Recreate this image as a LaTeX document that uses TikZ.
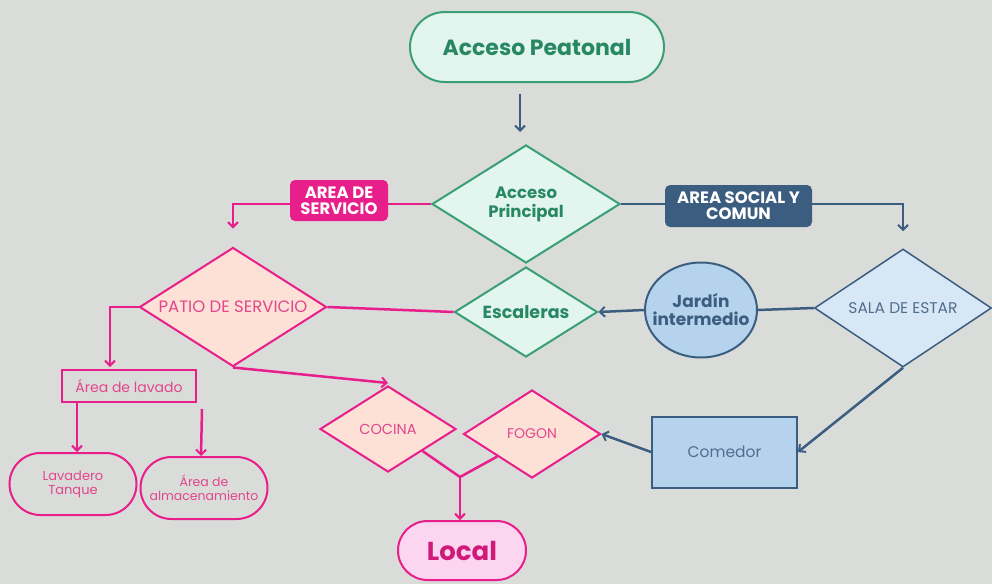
\documentclass[tikz,border=0pt]{standalone}
\usepackage{fontspec}
\setmainfont{Poppins}
\usetikzlibrary{shapes.geometric,shapes.misc,arrows.meta}
\definecolor{bg}{RGB}{218,220,217}
\definecolor{grn}{RGB}{58,158,118}
\definecolor{grntxt}{RGB}{40,136,100}
\definecolor{mint}{RGB}{226,246,239}
\definecolor{pnk}{RGB}{232,30,138}
\definecolor{pnktxt}{RGB}{226,70,140}
\definecolor{peach}{RGB}{253,224,214}
\definecolor{blu}{RGB}{59,94,128}
\definecolor{blutxt}{RGB}{80,110,140}
\definecolor{lblu}{RGB}{182,211,238}
\definecolor{sblu}{RGB}{216,231,246}
\definecolor{lpink}{RGB}{252,214,240}
\definecolor{loctxt}{RGB}{208,26,122}
\tikzset{
  barb/.tip={Straight Barb[length=5pt,width=10pt,line width=2pt]},
  pline/.style={draw=pnk,line width=2.5pt},
  bline/.style={draw=blu,line width=2.5pt},
  gdia/.style={diamond,draw=grn,fill=mint,line width=2pt,inner sep=0pt},
  pdia/.style={diamond,draw=pnk,fill=peach,line width=2pt,inner sep=0pt},
  intext/.style={inner sep=0pt,align=center},
  tagbox/.style={rectangle,rounded corners=5pt,inner sep=0pt,text=white,align=center},
  pill/.style={rounded rectangle,line width=2pt,inner sep=0pt,align=center},
}
\begin{document}
\begin{tikzpicture}[x=1pt,y=-1pt]
\useasboundingbox (0,0) rectangle (992,584);
\fill[bg] (0,0) rectangle (992,584);

% shapes
\node[pill,draw=grn,fill=mint,minimum width=254pt,minimum height=70pt,text=grntxt,font=\bfseries\fontsize{22}{24}\selectfont] (peat) at (537,47) {Acceso Peatonal};
\node[gdia,minimum width=188pt,minimum height=118pt] (prin) at (526,204) {};
\node[intext,text=grntxt,font=\bfseries\fontsize{16.5}{19}\selectfont] (prin-t) at (prin.center) {Acceso\\Principal};
\node[pdia,minimum width=187pt,minimum height=119pt] (patio) at (233,307) {};
\node[intext,text=pnktxt,font=\fontsize{16.5}{17}\selectfont] (patio-t) at (patio.center) {PATIO DE SERVICIO};
\node[gdia,minimum width=143pt,minimum height=90pt] (esc) at (526,312) {};
\node[intext,text=grntxt,font=\bfseries\fontsize{17.5}{18}\selectfont] (esc-t) at (esc.center) {Escaleras};
\node[ellipse,draw=blu,fill=lblu,line width=2pt,minimum width=112pt,minimum height=95pt,inner sep=0pt] (jar) at (701,310) {};
\node[intext,text=blu,font=\bfseries\fontsize{17}{18}\selectfont] (jar-t) at (jar.center) {Jardín\\intermedio};
\node[diamond,draw=blu,fill=sblu,line width=1.5pt,inner sep=0pt,minimum width=177pt,minimum height=118pt] (sala) at (903,308) {};
\node[intext,text=blutxt,font=\fontsize{15.5}{16}\selectfont] (sala-t) at (sala.center) {SALA DE ESTAR};
\node[rectangle,draw=pnk,line width=2pt,minimum width=134pt,minimum height=32pt,inner sep=0pt,text=pnktxt,font=\fontsize{14}{14}\selectfont] (lav) at (129,386) {Área de lavado};
\node[pill,draw=pnk,minimum width=127pt,minimum height=62pt,text=pnktxt,font=\fontsize{13}{14}\selectfont] (lavd) at (73,484) {Lavadero\\Tanque};
\node[pill,draw=pnk,minimum width=127pt,minimum height=62pt,text=pnktxt,font=\fontsize{12.5}{14}\selectfont] (alm) at (204,488) {Área de\\almacenamiento};
\node[pdia,minimum width=136pt,minimum height=86pt] (coc) at (388,429) {};
\node[intext,text=pnktxt,font=\fontsize{14.5}{15}\selectfont] (coc-t) at (coc.center) {COCINA};
\node[pdia,minimum width=137pt,minimum height=88pt] (fog) at (532,434) {};
\node[intext,text=pnktxt,font=\fontsize{14}{15}\selectfont] (fog-t) at (fog.center) {FOGON};
\node[rectangle,draw=blu,fill=lblu,line width=2pt,minimum width=145pt,minimum height=71pt,inner sep=0pt,text=blutxt,font=\fontsize{15.5}{16}\selectfont] (com) at (724.5,452) {Comedor};
\node[pill,draw=pnk,fill=lpink,minimum width=128pt,minimum height=59pt,text=loctxt,font=\bfseries\fontsize{26}{28}\selectfont] (loc) at (462,550.5) {Local};
\coordinate (yj) at (460,477);

% connectors
\draw[bline,-barb] ([xshift=-17pt,yshift=-11pt]peat.south) -- ([xshift=-6pt,yshift=12pt]prin.north);
\draw[pline,-barb] (prin.west) -| ([yshift=18pt]patio.north);
\draw[bline,-barb] (prin.east) -| ([yshift=17pt]sala.north);
\node[tagbox,fill=pnk,minimum width=98pt,minimum height=41pt,font=\bfseries\fontsize{16.5}{16}\selectfont] (tagserv) at (339,200.5) {AREA DE\\SERVICIO};
\node[tagbox,fill=blu,minimum width=147pt,minimum height=42pt,font=\bfseries\fontsize{16.5}{16}\selectfont] (tagsoc) at (738.5,206) {AREA SOCIAL Y\\COMUN};
\draw[pline] (patio.east) -- (esc.west);
\draw[bline,-barb] (jar.west) -- (esc.east);
\draw[bline] (sala.west) -- (jar.east);
\draw[pline,-barb] (patio.west) -| ([xshift=-19pt,yshift=2pt]lav.north);
\draw[pline,-barb] ([xshift=4pt]lav.south -| lavd.north) -- ([xshift=4pt]lavd.north);
\draw[pline,-barb] ([xshift=5pt,yshift=-6pt]lav.south east) -- ([xshift=-3pt]alm.north);
\draw[pline,-barb] (patio.south) -- ([yshift=2pt]coc.north);
\draw[pline] (coc.south east) -- (yj);
\draw[pline] (fog.south west) -- (yj);
\draw[pline,-barb] (yj) -- (yj |- loc.north);
\draw[bline,-barb] (com.west) -- (fog.east);
\draw[bline,-barb] (sala.south) -- (com.east);
\end{tikzpicture}
\end{document}
